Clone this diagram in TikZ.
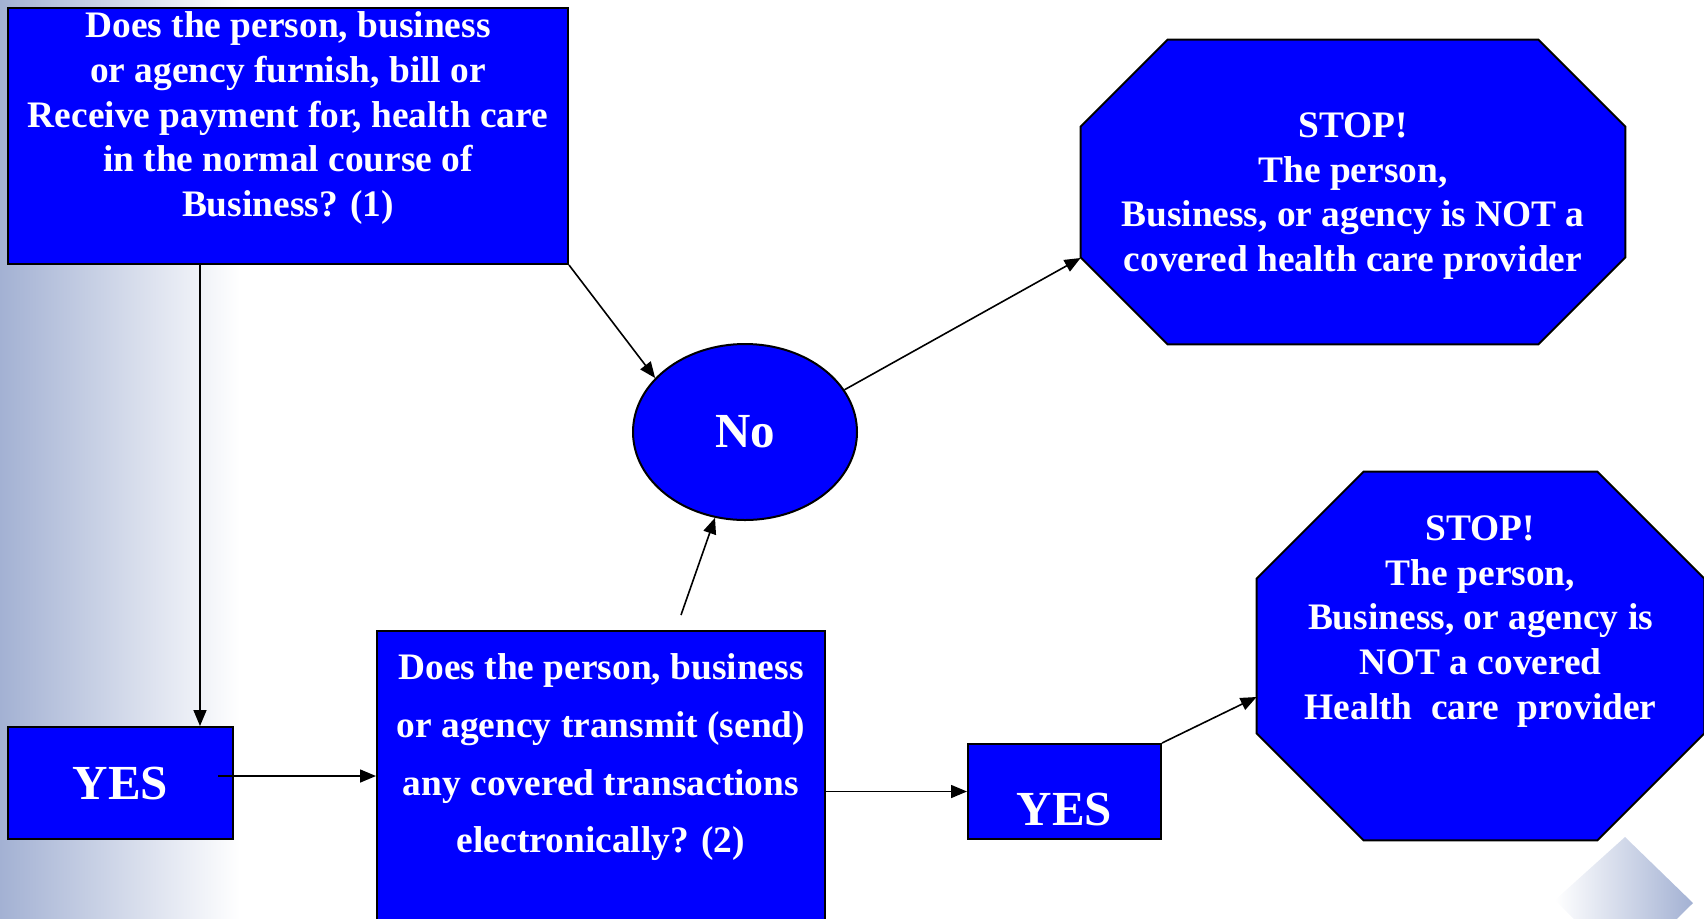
\documentclass[tikz,border=0pt]{standalone}
\usepackage{fontspec}
\setmainfont{Liberation Serif}
\usetikzlibrary{arrows.meta,positioning,shapes.geometric}
\definecolor{boxblue}{HTML}{0000FF}
\definecolor{sidegrad}{HTML}{A3B1D3}
\tikzset{
  qbox/.style={draw=black, fill=boxblue, line width=1pt, inner sep=0pt},
  qtext/.style={text=white, font=\bfseries\fontsize{18.7}{22.3}\selectfont,
                align=center, inner sep=0pt},
  bigtext/.style={text=white, font=\bfseries\fontsize{24.5}{28}\selectfont},
  stopframe/.style={inner sep=0pt},
  stopline/.style={draw=black, fill=boxblue, line width=1pt},
  arrow/.style={-{Triangle[length=8pt,width=6.5pt]}, line width=0.8pt, draw=black}
}
\begin{document}
\begin{tikzpicture}[x=0.5pt,y=-0.5pt]
    \clip (0,0) rectangle (1704,918);
    % side shading and corner mark
    \shade[left color=sidegrad,right color=white] (0,0) rectangle (240,918);
    \shade[left color=white,right color=sidegrad] (1625,837) -- (1693,903) -- (1625,970) -- (1555,900) -- cycle;

    % first question
    \node[qbox,minimum width=280pt,minimum height=128pt] (q1) at (288,136) {};
    \node[qtext,below=2.25pt of q1.north] (q1txt) {Does the person, business\\or agency furnish, bill or\\Receive payment for, health care\\in the normal course of\\Business? (1)};
    \node[qbox,minimum width=112.5pt,minimum height=56pt,bigtext] (yes1) at (120.5,783) {YES};

    % no
    \node[ellipse,draw=black,fill=boxblue,line width=1pt,inner sep=0pt,
          minimum width=112pt,minimum height=88pt,bigtext] (no) at (745,432) {No};

    % second question
    \node[qbox,minimum width=224pt,minimum height=154.5pt] (q2) at (601,785.5) {};
    \node[qtext,font=\bfseries\fontsize{18.7}{28.8}\selectfont,below=11.75pt of q2.north] (q2txt) {Does the person, business\\or agency transmit (send)\\any covered transactions\\electronically? (2)};
    \node[qbox,minimum width=96.5pt,minimum height=47.5pt,bigtext,text height=33.5pt,text depth=0pt] (yes2) at (1064.5,791.5) {YES};

    % stop signs
    \node[stopframe,minimum width=272pt,minimum height=152pt] (stop1) at (1353,192) {};
    \filldraw[stopline] ([xshift=43.5pt]stop1.north west) -- ([xshift=-43.5pt]stop1.north east)
        -- ([yshift=-43.5pt]stop1.north east) -- ([yshift=43.5pt]stop1.south east)
        -- ([xshift=-43.5pt]stop1.south east) -- ([xshift=43.5pt]stop1.south west)
        -- ([yshift=43.5pt]stop1.south west) -- ([yshift=-43.5pt]stop1.north west) -- cycle;
    \node[qtext] (stop1txt) at ([yshift=-2pt]stop1.center) {STOP!\\The person,\\Business, or agency is NOT a\\covered health care provider};

    \node[stopframe,minimum width=223.5pt,minimum height=184pt] (stop2) at (1480.5,656) {};
    \filldraw[stopline] ([xshift=53.5pt]stop2.north west) -- ([xshift=-53.5pt]stop2.north east)
        -- ([yshift=-53.5pt]stop2.north east) -- ([yshift=53.5pt]stop2.south east)
        -- ([xshift=-53.5pt]stop2.south east) -- ([xshift=53.5pt]stop2.south west)
        -- ([yshift=53.5pt]stop2.south west) -- ([yshift=-53.5pt]stop2.north west) -- cycle;
    \node[qtext,below=22pt of stop2.north] (stop2txt) {STOP!\\The person,\\Business, or agency is\\NOT a covered\\Health~ care~ provider};

    % connectors
    \coordinate (drop) at ([xshift=39.75pt]yes1.north);
    \coordinate (y1out) at ([xshift=-8pt,yshift=3.5pt]yes1.east);
    \coordinate (q2out) at ([xshift=40pt,yshift=7.5pt]q2.north);
    \draw[arrow] (drop |- q1.south) -- (drop);
    \draw[arrow] (y1out) -- (y1out -| q2.west);
    \draw[arrow] (q1.south east) -- (no.149);
    \draw[arrow] (q2out) -- (no);
    \draw[arrow] (no.23) -- ([yshift=-33pt]stop1.west);
    \draw[arrow] (yes2.west -| q2.east) -- (yes2.west);
    \draw[arrow] (yes2.north east) -- ([yshift=-20.5pt]stop2.west);
\end{tikzpicture}
\end{document}
